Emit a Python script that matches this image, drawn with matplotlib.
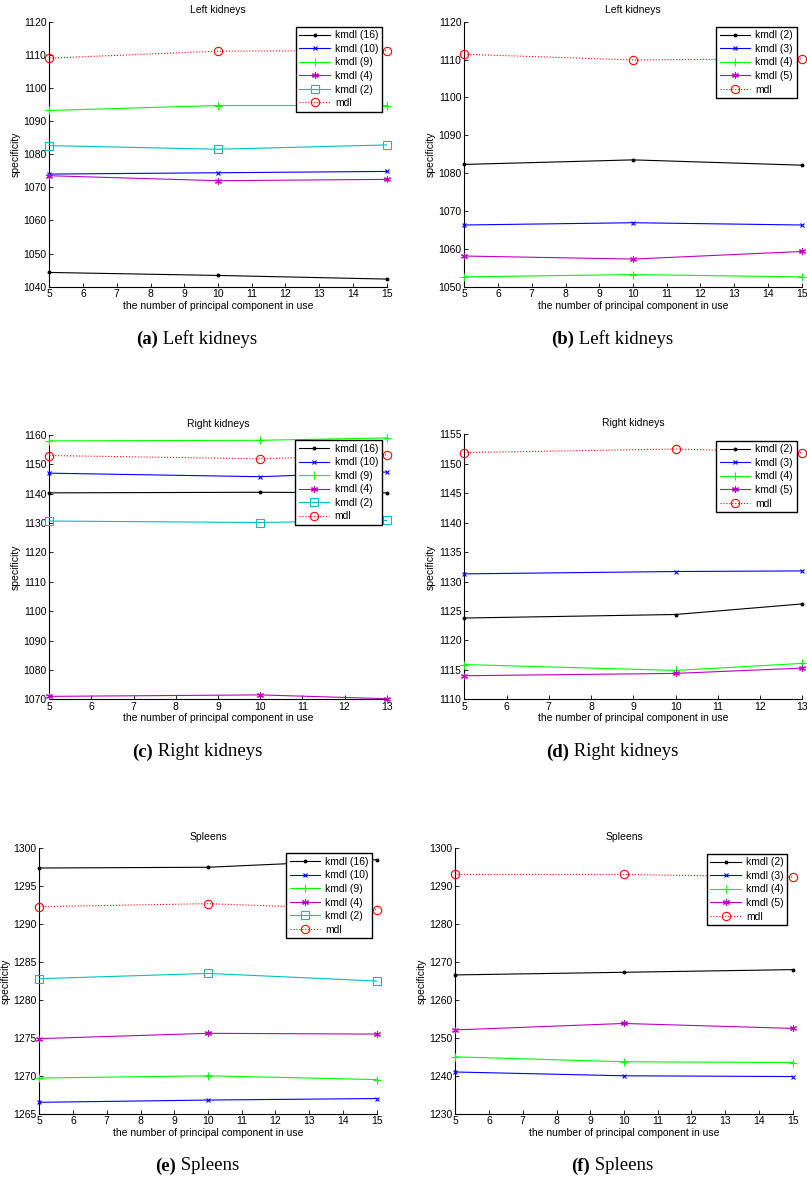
import matplotlib
matplotlib.use("Agg")
import matplotlib.pyplot as plt

W, H = 807, 1179

# x values (number of principal components)
x_15 = [5, 10, 15]
x_13 = [5, 10, 13]

# (a) Left kidneys
a_labels = ["kmdl (16)", "kmdl (10)", "kmdl (9)", "kmdl (4)", "kmdl (2)", "mdl"]
a_kmdl16 = [1044.3, 1043.4, 1042.3]
a_kmdl10 = [1074.0, 1074.4, 1074.8]
a_kmdl9 = [1093.2, 1094.7, 1094.7]
a_kmdl4 = [1073.5, 1072.0, 1072.4]
a_kmdl2 = [1082.6, 1081.5, 1082.8]
a_mdl = [1109.0, 1111.1, 1111.3]

# (b) Left kidneys
b_labels = ["kmdl (2)", "kmdl (3)", "kmdl (4)", "kmdl (5)", "mdl"]
b_kmdl2 = [1082.3, 1083.5, 1082.1]
b_kmdl3 = [1066.3, 1066.9, 1066.3]
b_kmdl4 = [1052.6, 1053.2, 1052.6]
b_kmdl5 = [1058.1, 1057.3, 1059.3]
b_mdl = [1111.4, 1109.9, 1110.2]

# (c) Right kidneys
c_kmdl16 = [1140.3, 1140.5, 1140.3]
c_kmdl10 = [1147.0, 1145.8, 1147.4]
c_kmdl9 = [1158.0, 1158.2, 1159.0]
c_kmdl4 = [1071.0, 1071.5, 1070.2]
c_kmdl2 = [1130.7, 1130.2, 1130.9]
c_mdl = [1153.0, 1151.9, 1153.2]

# (d) Right kidneys
d_kmdl2 = [1123.8, 1124.4, 1126.2]
d_kmdl3 = [1131.3, 1131.7, 1131.8]
d_kmdl4 = [1115.9, 1114.9, 1116.1]
d_kmdl5 = [1114.0, 1114.4, 1115.3]
d_mdl = [1151.9, 1152.5, 1151.9]

# (e) Spleens
e_kmdl16 = [1297.4, 1297.5, 1298.5]
e_kmdl10 = [1266.5, 1266.8, 1267.0]
e_kmdl9 = [1269.7, 1270.0, 1269.5]
e_kmdl4 = [1274.9, 1275.6, 1275.5]
e_kmdl2 = [1282.8, 1283.5, 1282.5]
e_mdl = [1292.3, 1292.7, 1291.9]

# (f) Spleens
f_kmdl2 = [1266.6, 1267.3, 1268.0]
f_kmdl3 = [1241.0, 1240.0, 1239.8]
f_kmdl4 = [1245.0, 1243.7, 1243.5]
f_kmdl5 = [1252.1, 1253.8, 1252.5]
f_mdl = [1293.1, 1293.1, 1292.4]

captions = ["(a)", "(b)", "(c)", "(d)", "(e)", "(f)"]
cap_text = [" Left kidneys", " Left kidneys", " Right kidneys", " Right kidneys",
            " Spleens", " Spleens"]

# styles for the two kinds of panels (matlab-like colours / markers)
AST = (6, 2, 0)  # asterisk like matlab '*'
style6 = [("k", "."), ("b", "x"), ("#00ff00", "+"), ("m", AST), ("c", "s"), ("r", "o")]
style5 = [("k", "."), ("b", "x"), ("#00ff00", "+"), ("m", AST), ("r", "o")]
msize = {".": 4, "x": 3.5, "+": 6, AST: 5, "s": 6, "o": 6}

plt.rcParams["font.family"] = "Liberation Sans"
fig = plt.figure(figsize=(W / 100, H / 100), dpi=100)


def add_ax(l, t, r, b):
    return fig.add_axes([l / W, 1 - b / H, (r - l) / W, (b - t) / H])


def panel(rect, title, xs, series, labels, styles, ylim, yticks, leg_box):
    ax = add_ax(*rect)
    for ys, lab, (col, mk) in zip(series, labels, styles):
        ls = ":" if lab == "mdl" else "-"
        open_mk = mk in ("s", "o")
        ax.plot(xs, ys, ls, color=col, marker=mk, ms=msize[mk], lw=0.8,
                mfc="none" if open_mk else col, mec=col, mew=0.8, label=lab,
                clip_on=False, zorder=3)
    ax.set_xlim(xs[0], xs[-1])
    ax.set_xticks(range(xs[0], xs[-1] + 1))
    ax.set_ylim(*ylim)
    ax.set_yticks(yticks)
    ax.spines["top"].set_visible(False)
    ax.spines["right"].set_visible(False)
    ax.tick_params(direction="in", length=3, labelsize=7.5, pad=2, width=0.6)
    ax.set_title(title, fontsize=7.5, pad=6)
    ax.set_xlabel("the number of principal component in use", fontsize=7.5, labelpad=1)
    ax.set_ylabel("specificity", fontsize=7.5, labelpad=2)
    lx, ly = leg_box
    leg = ax.legend(loc="upper right", bbox_to_anchor=(lx / W, 1 - ly / H),
                    bbox_transform=fig.transFigure, fontsize=7.5, frameon=True,
                    fancybox=False, handlelength=2.9, labelspacing=0.34,
                    borderpad=0.35, borderaxespad=0, handletextpad=0.5,
                    framealpha=1)
    leg.get_frame().set_edgecolor("black")
    leg.get_frame().set_linewidth(1.0)
    leg.set_zorder(5)
    return ax


panel((49.3, 21.7, 386.7, 286.7), "Left kidneys", x_15,
      [a_kmdl16, a_kmdl10, a_kmdl9, a_kmdl4, a_kmdl2, a_mdl], a_labels, style6,
      (1040, 1120), range(1040, 1121, 10), (382, 26.7))
panel((464.3, 21.7, 801.7, 286.7), "Left kidneys", x_15,
      [b_kmdl2, b_kmdl3, b_kmdl4, b_kmdl5, b_mdl], b_labels, style5,
      (1050, 1120), range(1050, 1121, 10), (796.7, 26.7))
panel((49.3, 435, 386.7, 699.3), "Right kidneys", x_13,
      [c_kmdl16, c_kmdl10, c_kmdl9, c_kmdl4, c_kmdl2, c_mdl], a_labels, style6,
      (1070, 1160), range(1070, 1161, 10), (381.7, 440))
panel((464.3, 434.3, 802.3, 699.3), "Right kidneys", x_13,
      [d_kmdl2, d_kmdl3, d_kmdl4, d_kmdl5, d_mdl], b_labels, style5,
      (1110, 1155), range(1110, 1156, 5), (796.7, 440.7))
panel((39.3, 848.3, 376.7, 1113.7), "Spleens", x_15,
      [e_kmdl16, e_kmdl10, e_kmdl9, e_kmdl4, e_kmdl2, e_mdl], a_labels, style6,
      (1265, 1300), range(1265, 1301, 5), (372.3, 853.3))
panel((455.3, 848.3, 792.7, 1113.7), "Spleens", x_15,
      [f_kmdl2, f_kmdl3, f_kmdl4, f_kmdl5, f_mdl], b_labels, style5,
      (1230, 1300), range(1230, 1301, 10), (787.3, 853.7))

# sub-captions under each panel: bold "(x)" then normal text
cap_pos = [(197, 339), (612, 339), (197, 752), (612, 752), (197, 1166), (612, 1166)]
r = fig.canvas.get_renderer()
for (cx, cy), c, t in zip(cap_pos, captions, cap_text):
    a = fig.text(0, 0, c, fontsize=13.5, family="Liberation Serif", weight="bold", va="center")
    b = fig.text(0, 0, t, fontsize=13.5, family="Liberation Serif", va="center")
    wa = a.get_window_extent(r).width
    wb = b.get_window_extent(r).width
    x0 = cx - (wa + wb) / 2
    a.set_position((x0 / W, 1 - cy / H))
    b.set_position(((x0 + wa) / W, 1 - cy / H))

fig.savefig("out.png", dpi=100)
